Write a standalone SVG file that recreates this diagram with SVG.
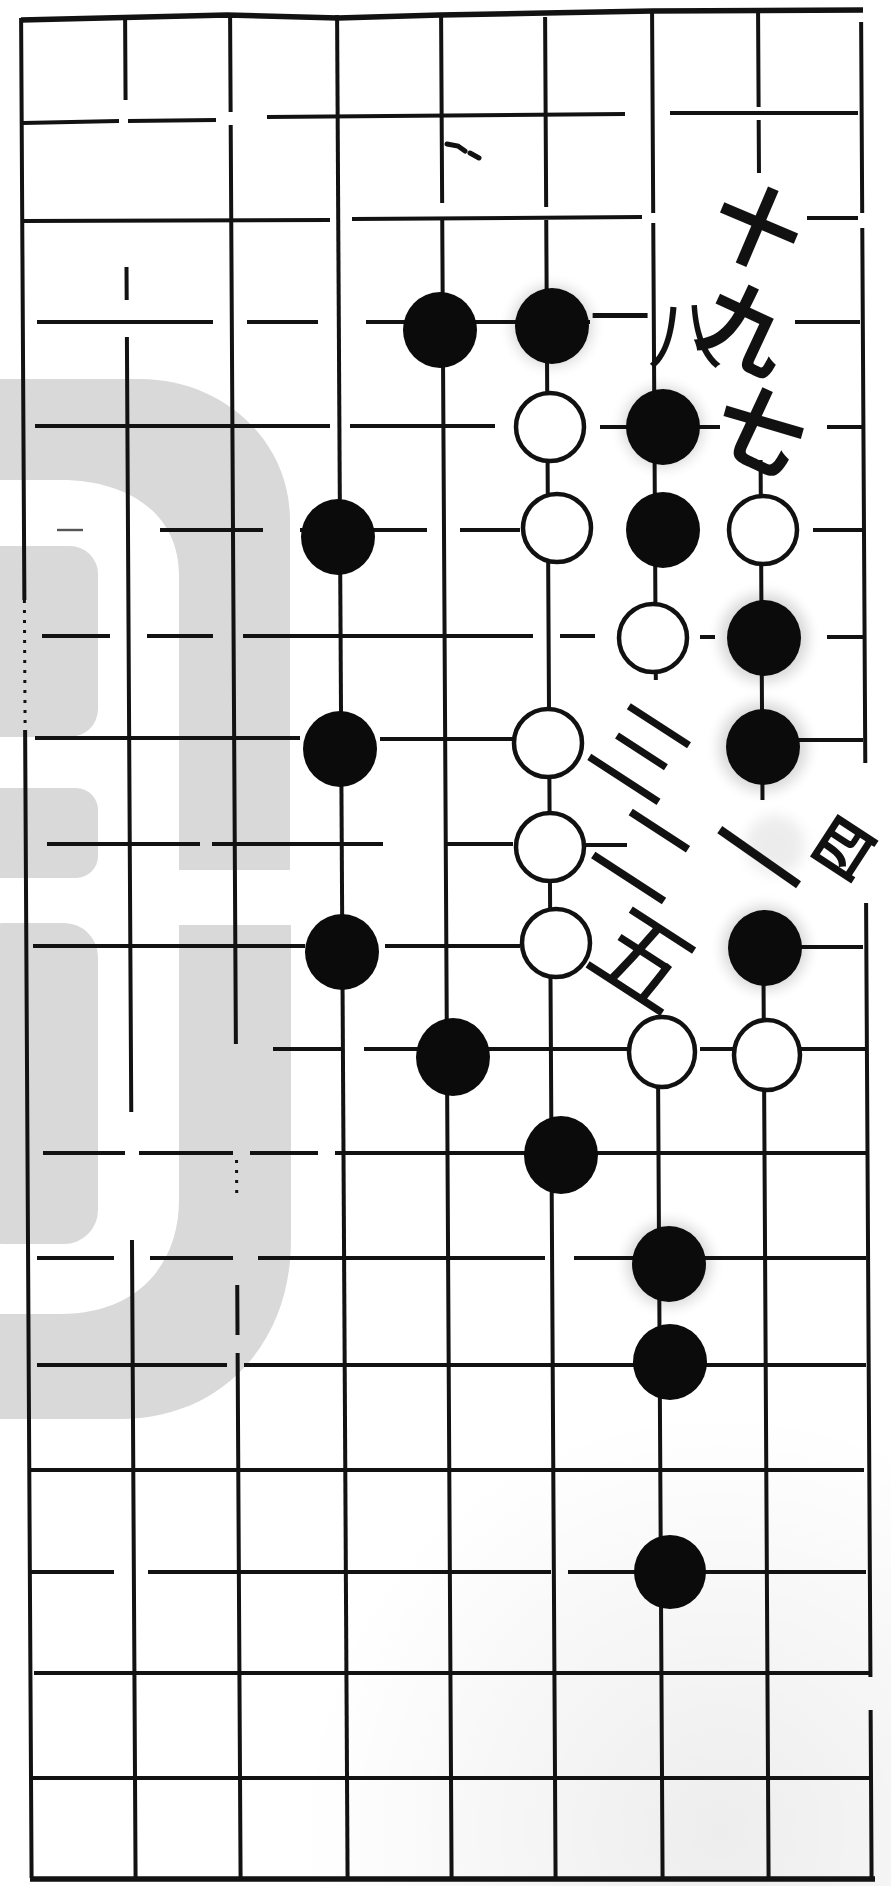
<svg xmlns="http://www.w3.org/2000/svg" width="891" height="1886" viewBox="0 0 891 1886">
<defs>
<style>
.ln{fill:none;stroke:#121212;stroke-width:4;stroke-linecap:butt;stroke-linejoin:round}
.bd{stroke-width:5.5}
.dot{stroke-dasharray:3 7;stroke-width:3}
.fnt{stroke-width:2.4;stroke:#555}
.blk{fill:#0b0b0b}
.wht{fill:#fff;stroke:#111;stroke-width:4.5}
.halo{fill:#000;opacity:0.16;filter:url(#blur)}
.halo2{fill:#000;opacity:0.07;filter:url(#blur)}
.lbl{font-family:"Noto Sans CJK SC","Noto Sans CJK JP",sans-serif;fill:#111;text-anchor:middle;dominant-baseline:central}
.bold{font-weight:700}
.wm{fill:#d9d9d9}
</style>
<filter id="blur" x="-50%" y="-50%" width="200%" height="200%"><feGaussianBlur stdDeviation="7"/></filter>
<radialGradient id="paper" cx="720" cy="1830" r="420" gradientUnits="userSpaceOnUse">
<stop offset="0" stop-color="#000" stop-opacity="0.07"/>
<stop offset="1" stop-color="#000" stop-opacity="0"/>
</radialGradient>
</defs>
<rect width="891" height="1886" fill="#fff"/>
<rect x="0" y="1400" width="891" height="486" fill="url(#paper)"/>
<g id="watermark" class="wm">
<path d="M0,379 L140,379 C222,379 290,440 290,520 L290,870 L179,870 L179,575 C179,515 130,480 60,480 L0,480 Z"/>
<rect x="-30" y="546" width="128" height="191" rx="28"/>
<rect x="-30" y="788" width="128" height="90" rx="22"/>
<rect x="-30" y="923" width="128" height="321" rx="34"/>
<path d="M179,925 L291,925 L291,1240 C291,1345 220,1419 120,1419 L0,1419 L0,1314 L60,1314 C140,1314 179,1262 179,1200 Z"/>
</g>
<g id="connectors">
<g id="hlines">
<path class="ln bd" d="M21,20 L227,15 L338,18 L440,15 L545,13 L652,11 L863,10"/>
<path class="ln" d="M23,123 L119,121 M128,121 L216,120 M267,117 L625,114 M670,113 L858,113"/>
<path class="ln" d="M23,221 L330,220 M352,219 L642,217 M807,218 L858,218"/>
<path class="ln" d="M37,322 L213,322 M247,322 L318,322 M366,322 L590,322 M795,322 L860,322"/>
<path class="ln" d="M35,426 L330,426 M350,426 L495,426 M600,427 L720,427 M827,427 L863,427"/>
<path class="ln" d="M160,530 L263,530 M300,530 L427,530 M460,530 L520,530 M813,530 L863,530"/>
<path class="ln fnt" d="M57,530 L83,530"/>
<path class="ln" d="M42,636 L110,636 M147,636 L213,636 M243,636 L533,636 M560,636 L595,636 M700,637 L715,637 M827,637 L863,637"/>
<path class="ln" d="M35,738 L300,738 M380,739 L513,739 M795,740 L863,740"/>
<path class="ln" d="M47,844 L200,844 M212,844 L383,844 M447,844 L513,844 M585,845 L627,845"/>
<path class="ln" d="M33,946 L305,946 M385,946 L520,946 M800,947 L863,947"/>
<path class="ln" d="M273,1049 L341,1049 M364,1049 L630,1049 M700,1049 L735,1049 M800,1049 L866,1049"/>
<path class="ln" d="M43,1153 L125,1153 M139,1153 L233,1153 M250,1153 L318,1153 M335,1153 L866,1153"/>
<path class="ln" d="M37,1258 L114,1258 M150,1258 L233,1258 M258,1258 L545,1258 M574,1258 L866,1258"/>
<path class="ln" d="M37,1365 L227,1365 M244,1365 L866,1365"/>
<path class="ln" d="M31,1470 L864,1470"/>
<path class="ln" d="M30,1572 L114,1572 M148,1572 L551,1572 M568,1572 L866,1572"/>
<path class="ln" d="M34,1673 L872,1673"/>
<path class="ln" d="M31,1778 L872,1778"/>
<path class="ln bd" d="M30,1879 L875,1879"/>
</g>
<g id="vlines" transform="matrix(1 0 0.00563 1 0 0)">
<path class="ln" d="M21,18 V600 M21,730 V1878"/>
<path class="ln dot" d="M21,600 V730"/>
<path class="ln" d="M125,16 V100 M125,267 V300 M125,337 V1112 M125,1240 V1878"/>
<path class="ln" d="M230,13 V112 M230,125 V1044 M230,1285 V1335 M230,1353 V1878"/>
<path class="ln dot" d="M230,1160 V1195"/>
<path class="ln" d="M337,15 V1878"/>
<path class="ln" d="M441,17 V203 M441,220 V1878"/>
<path class="ln" d="M545,17 V207 M545,220 V1878"/>
<path class="ln" d="M652,13 V213 M652,223 V680 M652,1015 V1878"/>
<path class="ln" d="M758,13 V107 M758,120 V173 M758,460 V800 M758,985 V1878"/>
<path class="ln" d="M861,22 V213 M861,228 V763 M861,903 V1677 M861,1710 V1878"/>
</g>
</g>
<g id="halos">
<circle class="halo" cx="764" cy="638" r="44"/>
<circle class="halo" cx="763" cy="747" r="44"/>
<circle class="halo" cx="765" cy="948" r="42"/>
<circle class="halo" cx="669" cy="1264" r="42"/>
<circle class="halo" cx="552" cy="326" r="40"/>
<circle class="halo" cx="663" cy="427" r="40"/>
<circle class="halo2" cx="775" cy="845" r="30"/>
</g>
<g id="stones">
<g id="b1"><ellipse class="blk" cx="440" cy="330" rx="37" ry="38"/></g>
<g id="b2"><ellipse class="blk" cx="552" cy="326" rx="37" ry="38"/></g>
<g id="w1"><circle class="wht" cx="550" cy="427" r="34"/></g>
<g id="b3"><ellipse class="blk" cx="663" cy="427" rx="37" ry="38"/></g>
<g id="b4"><ellipse class="blk" cx="338" cy="537" rx="37" ry="38"/></g>
<g id="w2"><circle class="wht" cx="557" cy="528" r="34"/></g>
<g id="b5"><ellipse class="blk" cx="663" cy="530" rx="37" ry="38"/></g>
<g id="w3"><circle class="wht" cx="763" cy="530" r="34"/></g>
<g id="w4"><circle class="wht" cx="653" cy="638" r="34"/></g>
<g id="b6"><ellipse class="blk" cx="764" cy="638" rx="37" ry="38"/></g>
<g id="b7"><ellipse class="blk" cx="340" cy="749" rx="37" ry="38"/></g>
<g id="w5"><circle class="wht" cx="548" cy="743" r="34"/></g>
<g id="b8"><ellipse class="blk" cx="763" cy="747" rx="37" ry="38"/></g>
<g id="w6"><circle class="wht" cx="550" cy="847" r="34"/></g>
<g id="w7"><circle class="wht" cx="556" cy="943" r="34"/></g>
<g id="b9"><ellipse class="blk" cx="342" cy="952" rx="37" ry="38"/></g>
<g id="b10"><ellipse class="blk" cx="765" cy="948" rx="37" ry="38"/></g>
<g id="b11"><ellipse class="blk" cx="453" cy="1057" rx="37" ry="39"/></g>
<g id="w8"><ellipse class="wht" cx="662" cy="1052" rx="33" ry="35"/></g>
<g id="w9"><ellipse class="wht" cx="767" cy="1055" rx="33" ry="35"/></g>
<g id="b12"><ellipse class="blk" cx="561" cy="1155" rx="37" ry="39"/></g>
<g id="b13"><ellipse class="blk" cx="669" cy="1264" rx="37" ry="38"/></g>
<g id="b14"><ellipse class="blk" cx="670" cy="1362" rx="37" ry="38"/></g>
<g id="b15"><ellipse class="blk" cx="670" cy="1572" rx="36" ry="37"/></g>
</g>
<g id="labels">
<text class="lbl bold" font-size="88" transform="translate(759,222) rotate(23)">十</text>
<text class="lbl bold" font-size="88" transform="translate(748,323) rotate(25)">九</text>
<text class="lbl" font-size="60" transform="translate(620,312)">一</text>
<text class="lbl" font-size="75" transform="translate(685,329)">八</text>
<text class="lbl bold" font-size="88" transform="translate(762,425) rotate(25)">七</text>
<text class="lbl" font-size="95" transform="translate(645,747) rotate(33)">三</text>
<text class="lbl" font-size="95" transform="translate(648,848) rotate(33)">二</text>
<text class="lbl" font-size="105" transform="translate(762,853) rotate(35)">一</text>
<text class="lbl bold" font-size="60" transform="translate(840,846) rotate(-57)">四</text>
<text class="lbl" font-size="100" transform="translate(648,953) rotate(33)">五</text>
</g>
<path id="mark" d="M447,144 L458,146 L465,151 M470,153 L479,158" fill="none" stroke="#111" stroke-width="5" stroke-linecap="round"/>
</svg>
